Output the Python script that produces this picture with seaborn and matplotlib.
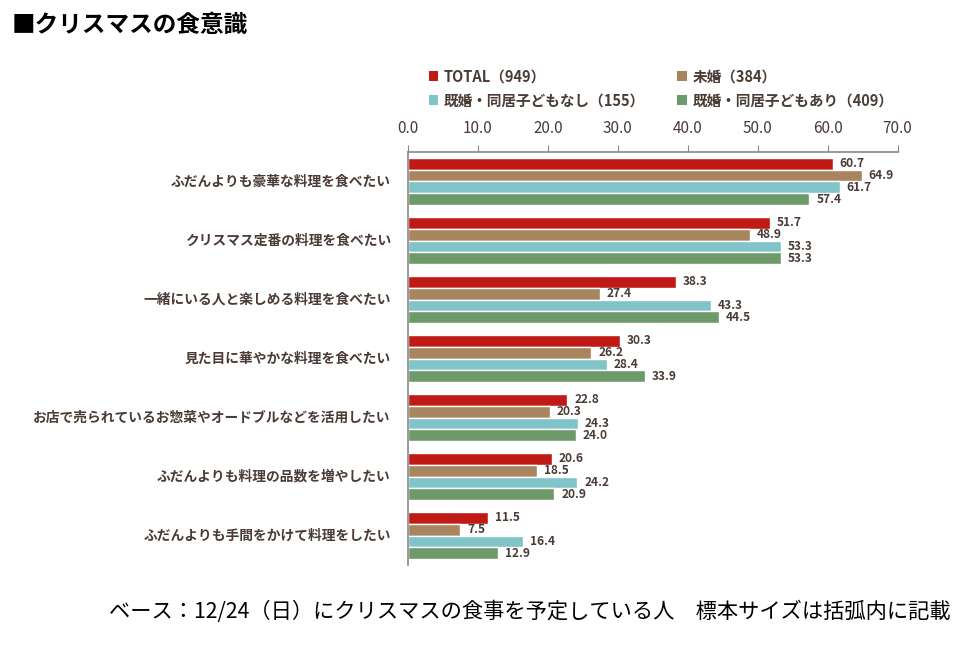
import pandas as pd
import seaborn as sns
import matplotlib.pyplot as plt
from matplotlib.patches import Patch

sns.set_style("white")
plt.rcParams['font.family'] = ['Noto Sans CJK JP', 'DejaVu Sans']

# data
categories = [
    "ふだんよりも豪華な料理を食べたい",
    "クリスマス定番の料理を食べたい",
    "一緒にいる人と楽しめる料理を食べたい",
    "見た目に華やかな料理を食べたい",
    "お店で売られているお惣菜やオードブルなどを活用したい",
    "ふだんよりも料理の品数を増やしたい",
    "ふだんよりも手間をかけて料理をしたい",
]
groups = ["TOTAL（949）", "未婚（384）", "既婚・同居子どもなし（155）", "既婚・同居子どもあり（409）"]
total = [60.7, 51.7, 38.3, 30.3, 22.8, 20.6, 11.5]
single = [64.9, 48.9, 27.4, 26.2, 20.3, 18.5, 7.5]
married_nokids = [61.7, 53.3, 43.3, 28.4, 24.3, 24.2, 16.4]
married_kids = [57.4, 53.3, 44.5, 33.9, 24.0, 20.9, 12.9]
colors = ["#C01A17", "#A8845F", "#80C3C8", "#6E9A6A"]
text_col = "#4A3B35"

rows = []
for g, vals in zip(groups, [total, single, married_nokids, married_kids]):
    for c, v in zip(categories, vals):
        rows.append({"item": c, "group": g, "value": v})
df = pd.DataFrame(rows)

fig = plt.figure(figsize=(9.6, 6.49), dpi=100)
ax = fig.add_axes([0.425, 0.1294, 0.51, 0.6364])

sns.barplot(data=df, x="value", y="item", hue="group", palette=colors,
            order=categories, hue_order=groups, orient="h", width=0.8,
            saturation=1, ax=ax, legend=False)

for cont in ax.containers:
    ax.bar_label(cont, fmt="%.1f", padding=5, fontsize=8.6,
                 fontweight="bold", color=text_col)

ax.set_xlim(0, 70)
ax.set_ylim(6.5, -0.5)
ax.set_xlabel("")
ax.set_ylabel("")
ax.xaxis.tick_top()
ax.set_xticks(range(0, 71, 10))
ax.set_xticklabels([f"{t:.1f}" for t in range(0, 71, 10)], fontsize=11,
                   color=text_col)
ax.tick_params(axis="x", direction="out", length=5, color="#888888", pad=6)

# group labels, ticks at group boundaries
ax.set_yticks([i - 0.5 for i in range(8)], minor=False)
ax.set_yticklabels([])
ax.tick_params(axis="y", direction="out", length=5, color="#888888")
for i, c in enumerate(categories):
    ax.text(-0.035, i, c, transform=ax.get_yaxis_transform(), ha="right",
            va="center", fontsize=9.9, fontweight="bold", color=text_col)

for s in ["right", "bottom"]:
    ax.spines[s].set_visible(False)
for s in ["left", "top"]:
    ax.spines[s].set_color("#888888")
    ax.spines[s].set_linewidth(1.2)

handles = [Patch(facecolor=col, edgecolor="none") for col in colors]
order = [0, 2, 1, 3]
leg = fig.legend([handles[i] for i in order], [groups[i] for i in order],
                 ncol=2, loc="upper left", bbox_to_anchor=(0.433, 0.915),
                 frameon=False, handlelength=0.65, handleheight=0.65,
                 handletextpad=0.4, columnspacing=2.2, labelspacing=0.55,
                 prop={"size": 10.5, "weight": "bold"})
for t in leg.get_texts():
    t.set_color(text_col)

fig.text(0.012, 0.962, "■クリスマスの食意識", fontsize=17, fontweight="bold",
         ha="left", va="center", color="black")
fig.text(0.99, 0.058, "ベース：12/24（日）にクリスマスの食事を予定している人　標本サイズは括弧内に記載",
         fontsize=15.3, ha="right", va="center", color="black")

fig.savefig("out.png", dpi=100)
